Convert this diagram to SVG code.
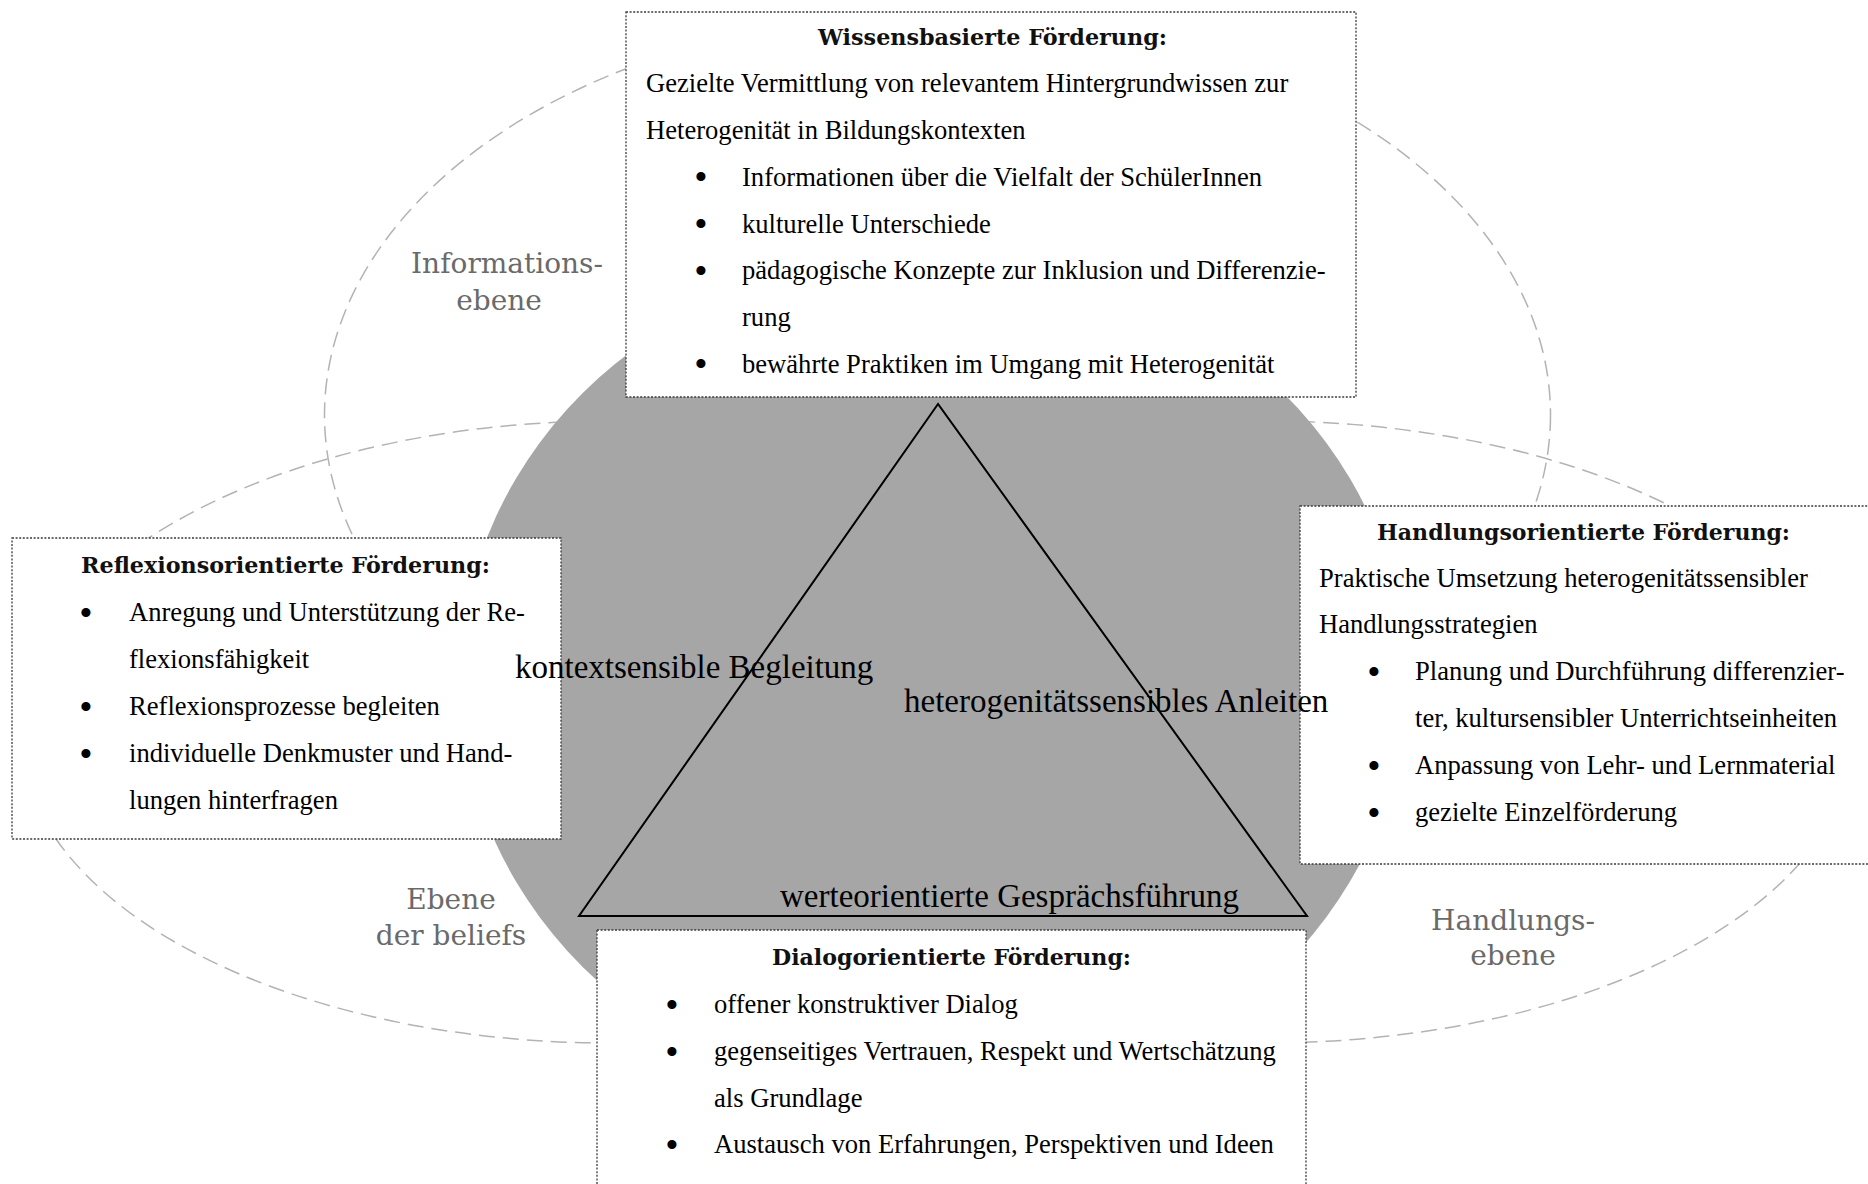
<svg xmlns="http://www.w3.org/2000/svg" width="1868" height="1184" viewBox="0 0 1868 1184">
  <style>
    .level { fill: none; stroke: #b3b3b3; stroke-width: 1.5; stroke-dasharray: 16 8; }
    .box { fill: #ffffff; stroke: #3a3a3a; stroke-width: 1.3; stroke-dasharray: 2 1.6; }
    .head { font-family: "DejaVu Serif", "Liberation Serif", serif; font-weight: bold; font-size: 22.5px; fill: #111; }
    .body { font-family: "Liberation Serif", "Times New Roman", serif; font-size: 26.6px; fill: #000; }
    .bul { font-family: "Liberation Serif", "Times New Roman", serif; font-size: 38px; fill: #000; text-anchor: middle; }
    .tri { font-family: "Liberation Serif", "Times New Roman", serif; font-size: 33px; fill: #000; }
    .lvl { font-family: "DejaVu Serif", "Liberation Serif", serif; font-size: 28px; fill: #6a6a6a; text-anchor: middle; }
  </style>

  <rect width="1868" height="1184" fill="#ffffff"/>

  <!-- three overlapping levels (dashed) -->
  <g id="levels">
    <ellipse class="level" cx="937.5" cy="415" rx="613" ry="402"/>
    <ellipse class="level" cx="610" cy="732" rx="590" ry="311"/>
    <ellipse class="level" cx="1265" cy="732" rx="590" ry="311"/>
  </g>

  <!-- central grey disc -->
  <ellipse id="core" cx="933" cy="680" rx="473" ry="427" fill="#a6a6a6"/>

  <!-- triangle of guidance forms -->
  <g id="connectors">
    <polygon points="938,404 579,916 1307,916" fill="none" stroke="#000" stroke-width="2" stroke-linejoin="miter"/>
  </g>

  <!-- level names -->
  <g id="level-labels">
    <text class="lvl" x="507" y="273">Informations-</text>
    <text class="lvl" x="499" y="310">ebene</text>
    <text class="lvl" x="451" y="909">Ebene</text>
    <text class="lvl" x="451" y="945">der beliefs</text>
    <text class="lvl" x="1513" y="930">Handlungs-</text>
    <text class="lvl" x="1513" y="965">ebene</text>
  </g>

  <!-- Wissensbasierte Foerderung -->
  <g id="node-wissen">
    <rect class="box" x="626" y="12" width="730" height="385"/>
    <text class="head" x="818" y="45" textLength="349" lengthAdjust="spacingAndGlyphs">Wissensbasierte Förderung:</text>
    <text class="body" x="646" y="92">Gezielte Vermittlung von relevantem Hintergrundwissen zur</text>
    <text class="body" x="646" y="138.5">Heterogenität in Bildungskontexten</text>
    <text class="bul" x="701" y="190">•</text>
    <text class="body" x="742" y="185.5">Informationen über die Vielfalt der SchülerInnen</text>
    <text class="bul" x="701" y="237">•</text>
    <text class="body" x="742" y="232.5">kulturelle Unterschiede</text>
    <text class="bul" x="701" y="283.5">•</text>
    <text class="body" x="742" y="279">pädagogische Konzepte zur Inklusion und Differenzie-</text>
    <text class="body" x="742" y="325.5">rung</text>
    <text class="bul" x="701" y="377">•</text>
    <text class="body" x="742" y="372.5">bewährte Praktiken im Umgang mit Heterogenität</text>
  </g>

  <!-- Reflexionsorientierte Foerderung -->
  <g id="node-reflexion">
    <rect class="box" x="12" y="538" width="549" height="301"/>
    <text class="head" x="81" y="573" textLength="409" lengthAdjust="spacingAndGlyphs">Reflexionsorientierte Förderung:</text>
    <text class="bul" x="86" y="625.5">•</text>
    <text class="body" x="129" y="621">Anregung und Unterstützung der Re-</text>
    <text class="body" x="129" y="668">flexionsfähigkeit</text>
    <text class="bul" x="86" y="719.5">•</text>
    <text class="body" x="129" y="715">Reflexionsprozesse begleiten</text>
    <text class="bul" x="86" y="766.5">•</text>
    <text class="body" x="129" y="762">individuelle Denkmuster und Hand-</text>
    <text class="body" x="129" y="809">lungen hinterfragen</text>
  </g>

  <!-- Handlungsorientierte Foerderung -->
  <g id="node-handlung">
    <rect class="box" x="1300" y="506" width="600" height="358"/>
    <text class="head" x="1377" y="540" textLength="413" lengthAdjust="spacingAndGlyphs">Handlungsorientierte Förderung:</text>
    <text class="body" x="1319" y="587">Praktische Umsetzung heterogenitätssensibler</text>
    <text class="body" x="1319" y="633">Handlungsstrategien</text>
    <text class="bul" x="1374" y="684.5">•</text>
    <text class="body" x="1415" y="680">Planung und Durchführung differenzier-</text>
    <text class="body" x="1415" y="727">ter, kultursensibler Unterrichtseinheiten</text>
    <text class="bul" x="1374" y="778.5">•</text>
    <text class="body" x="1415" y="774">Anpassung von Lehr- und Lernmaterial</text>
    <text class="bul" x="1374" y="825.5">•</text>
    <text class="body" x="1415" y="821">gezielte Einzelförderung</text>
  </g>

  <!-- Dialogorientierte Foerderung -->
  <g id="node-dialog">
    <rect class="box" x="597" y="930" width="709" height="300"/>
    <text class="head" x="772" y="965" textLength="359" lengthAdjust="spacingAndGlyphs">Dialogorientierte Förderung:</text>
    <text class="bul" x="672" y="1017.5">•</text>
    <text class="body" x="714" y="1013">offener konstruktiver Dialog</text>
    <text class="bul" x="672" y="1064.5">•</text>
    <text class="body" x="714" y="1060">gegenseitiges Vertrauen, Respekt und Wertschätzung</text>
    <text class="body" x="714" y="1107">als Grundlage</text>
    <text class="bul" x="672" y="1157.5">•</text>
    <text class="body" x="714" y="1153">Austausch von Erfahrungen, Perspektiven und Ideen</text>
  </g>

  <!-- labels on the triangle sides -->
  <g id="triangle-labels">
    <text class="tri" x="515" y="678">kontextsensible Begleitung</text>
    <text class="tri" x="904" y="711.5">heterogenitätssensibles Anleiten</text>
    <text class="tri" x="780" y="906.5">werteorientierte Gesprächsführung</text>
  </g>
</svg>
